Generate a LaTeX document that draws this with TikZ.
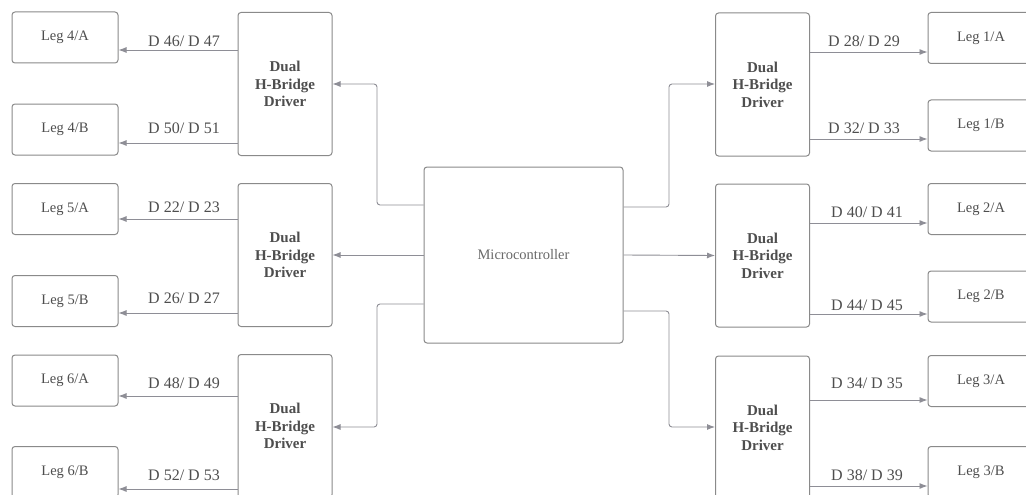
\documentclass[tikz,border=0pt]{standalone}
\usepackage{fontspec}
\setmainfont{Liberation Serif}
\usetikzlibrary{arrows.meta}
\definecolor{linegray}{HTML}{8E8E96}
\definecolor{boxgray}{HTML}{8A8A8A}
\definecolor{txtgray}{HTML}{4E4E4E}
\definecolor{mtxt}{HTML}{6A6A6A}
\tikzset{
  box/.style={draw=boxgray, line width=1pt, rounded corners=3pt, fill=white, inner sep=0pt, text=txtgray},
  legbox/.style={box, minimum width=106pt, minimum height=51pt, font=\fontsize{14.5}{17}\selectfont},
  drvbox/.style={box, minimum width=94pt, minimum height=143pt, align=center, font=\fontsize{15}{17.5}\selectfont},
  mcbox/.style={box, minimum width=199pt, minimum height=176pt, text=mtxt, font=\fontsize{14.5}{17}\selectfont},
  conn/.style={draw=linegray, line width=0.9pt, -{Latex[length=8pt,width=6pt]}, rounded corners=3pt},
  lbl/.style={text=txtgray, font=\fontsize{16}{18}\selectfont, inner sep=0pt}
}
\begin{document}
\begin{tikzpicture}[x=1pt,y=-1pt]
\useasboundingbox[fill=white] (0,0) rectangle (1026,495);
\clip (0,0) rectangle (1026,495);
% microcontroller
\node[mcbox] (mc) at (523.5,255) {Microcontroller};
% left drivers
\node[drvbox] (dL1) at (285,84) {\textbf{Dual}\\\textbf{H-Bridge}\\\textbf{Driver}};
\node[drvbox] (dL2) at (285,255) {\textbf{Dual}\\\textbf{H-Bridge}\\\textbf{Driver}};
\node[drvbox] (dL3) at (285,426) {\textbf{Dual}\\\textbf{H-Bridge}\\\textbf{Driver}};
% right drivers
\node[drvbox] (dR1) at (762.5,84.5) {\textbf{Dual}\\\textbf{H-Bridge}\\\textbf{Driver}};
\node[drvbox] (dR2) at (762.5,255.5) {\textbf{Dual}\\\textbf{H-Bridge}\\\textbf{Driver}};
\node[drvbox] (dR3) at (762.5,427.5) {\textbf{Dual}\\\textbf{H-Bridge}\\\textbf{Driver}};
% left legs
\node[legbox] (l4a) at (65,37.5) {Leg 4/A};
\node[legbox] (l4b) at (65,129.5) {Leg 4/B};
\node[legbox] (l5a) at (65,209) {Leg 5/A};
\node[legbox] (l5b) at (65,301) {Leg 5/B};
\node[legbox] (l6a) at (65,380.5) {Leg 6/A};
\node[legbox] (l6b) at (65,472) {Leg 6/B};
% right legs
\node[legbox] (l1a) at (981,38) {Leg 1/A};
\node[legbox] (l1b) at (981,125.5) {Leg 1/B};
\node[legbox] (l2a) at (981,209) {Leg 2/A};
\node[legbox] (l2b) at (981,296.5) {Leg 2/B};
\node[legbox] (l3a) at (981,381) {Leg 3/A};
\node[legbox] (l3b) at (981,472) {Leg 3/B};
% microcontroller to drivers
\draw[conn] (mc.west |- 0,205) -- (377,205) |- (dL1.east |- 0,84);
\draw[conn] (mc.west) -- (dL2.east);
\draw[conn] (mc.west |- 0,304) -- (377,304) |- (dL3.east |- 0,427);
\draw[conn] (mc.east |- 0,207) -- (669,207) |- (dR1.west |- 0,84);
\draw[conn] (mc.east) -- (dR2.west);
\draw[conn] (mc.east |- 0,311) -- (669,311) |- (dR3.west |- 0,427);
% drivers to legs (left)
\draw[conn] (dL1.west |- 0,50) -- (l4a.east |- 0,50);
\draw[conn] (dL1.west |- 0,143) -- (l4b.east |- 0,143);
\draw[conn] (dL2.west |- 0,219) -- (l5a.east |- 0,219);
\draw[conn] (dL2.west |- 0,313) -- (l5b.east |- 0,313);
\draw[conn] (dL3.west |- 0,396) -- (l6a.east |- 0,396);
\draw[conn] (dL3.west |- 0,489) -- (l6b.east |- 0,489);
% drivers to legs (right)
\draw[conn] (dR1.east |- 0,52) -- (l1a.west |- 0,52);
\draw[conn] (dR1.east |- 0,139) -- (l1b.west |- 0,139);
\draw[conn] (dR2.east |- 0,223) -- (l2a.west |- 0,223);
\draw[conn] (dR2.east |- 0,314) -- (l2b.west |- 0,314);
\draw[conn] (dR3.east |- 0,400) -- (l3a.west |- 0,400);
\draw[conn] (dR3.east |- 0,486) -- (l3b.west |- 0,486);
% labels
\node[lbl] (t1) at (184,41) {D 46/ D 47};
\node[lbl] (t2) at (184,128) {D 50/ D 51};
\node[lbl] (t3) at (184,207) {D 22/ D 23};
\node[lbl] (t4) at (184,298) {D 26/ D 27};
\node[lbl] (t5) at (184,383) {D 48/ D 49};
\node[lbl] (t6) at (184,475) {D 52/ D 53};
\node[lbl] (t7) at (864,41) {D 28/ D 29};
\node[lbl] (t8) at (864,128) {D 32/ D 33};
\node[lbl] (t9) at (867,212) {D 40/ D 41};
\node[lbl] (t10) at (867,305) {D 44/ D 45};
\node[lbl] (t11) at (867,383) {D 34/ D 35};
\node[lbl] (t12) at (867,475) {D 38/ D 39};
\end{tikzpicture}
\end{document}
